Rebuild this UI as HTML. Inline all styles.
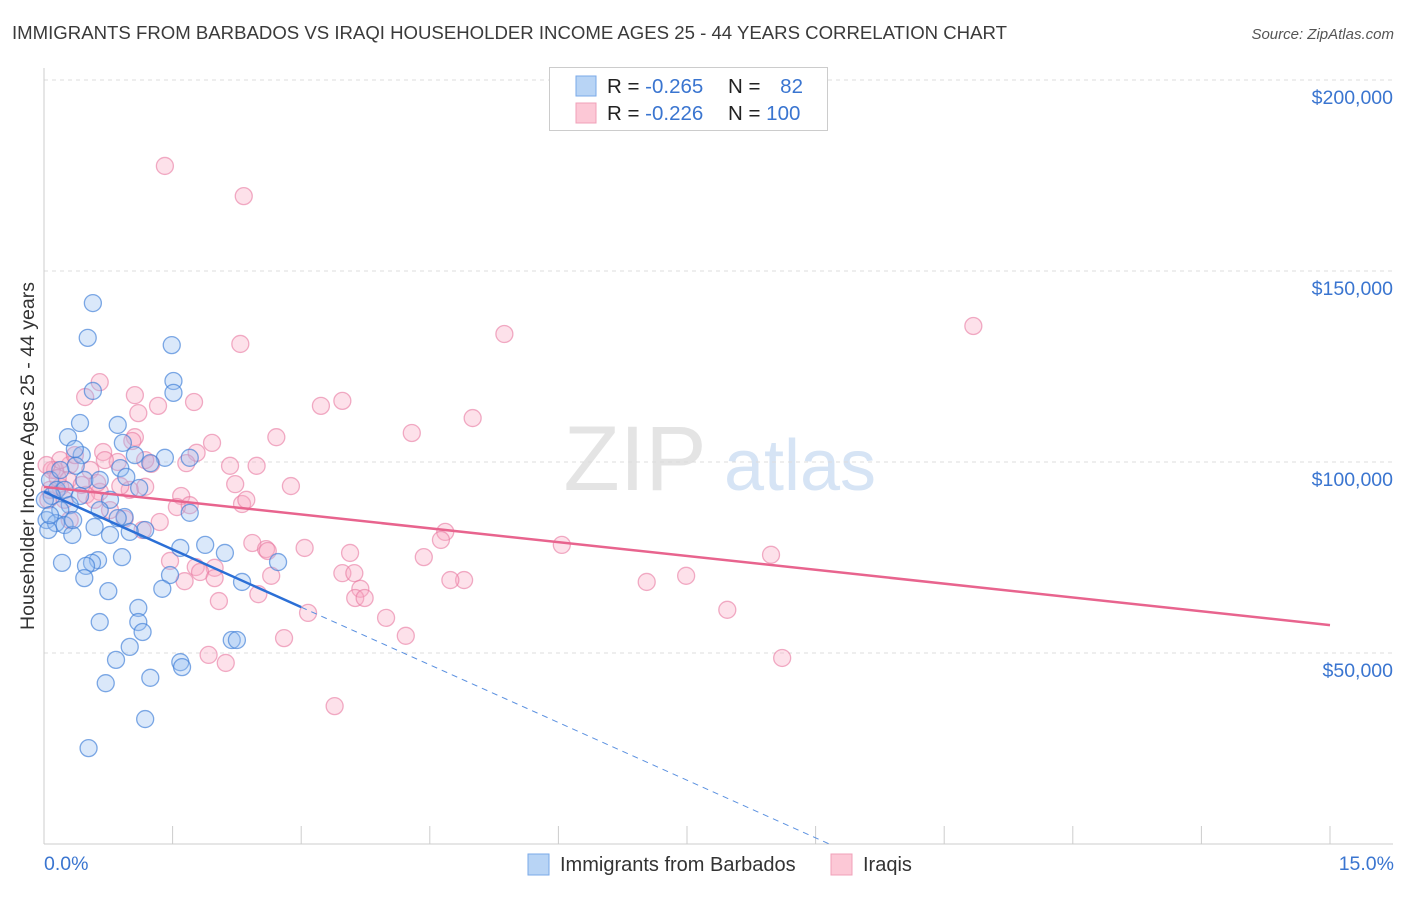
<!DOCTYPE html>
<html><head><meta charset="utf-8"><style>
body{margin:0;background:#fff;font-family:"Liberation Sans",sans-serif}
svg text{font-family:"Liberation Sans",sans-serif}
</style></head><body>
<svg id="chart" width="1406" height="892" xmlns="http://www.w3.org/2000/svg">
<text x="12" y="39" font-size="18.6" fill="#3a3a3a">IMMIGRANTS FROM BARBADOS VS IRAQI HOUSEHOLDER INCOME AGES 25 - 44 YEARS CORRELATION CHART</text>
<text x="1394" y="39" font-size="15" fill="#555" text-anchor="end" font-style="italic">Source: ZipAtlas.com</text>
<g>
<text x="635" y="490" font-size="92" fill="#e4e4e4" text-anchor="middle" font-family="Liberation Serif">ZIP</text>
<text x="800" y="490" font-size="72" fill="#d6e4f5" text-anchor="middle">atlas</text>
</g>
<g id="grid"></g>
<g id="axes"></g>
<g id="points"></g>
<g id="trends"></g>
<text transform="translate(34,456) rotate(-90)" font-size="19.5" fill="#333" text-anchor="middle">Householder Income Ages 25 - 44 years</text>
<g>
<rect x="549.5" y="67.5" width="278" height="63" fill="#fff" stroke="#ccc"/>
<rect x="576" y="76" width="20" height="20" fill="#b8d4f5" stroke="#7aaae8"/>
<rect x="576" y="103" width="20" height="20" fill="#fcc8d6" stroke="#f0a0b8"/>
<text x="607" y="93" font-size="20.5" fill="#222">R = <tspan fill="#3a75d0">-0.265</tspan></text>
<text x="728" y="93" font-size="20.5" fill="#222">N = <tspan fill="#3a75d0" dx="14">82</tspan></text>
<text x="607" y="120" font-size="20.5" fill="#222">R = <tspan fill="#3a75d0">-0.226</tspan></text>
<text x="728" y="120" font-size="20.5" fill="#222">N = <tspan fill="#3a75d0">100</tspan></text>
</g>
<g>
<rect x="528" y="854" width="21" height="21" fill="#b8d4f5" stroke="#7aaae8"/>
<text x="560" y="871" font-size="20" fill="#333">Immigrants from Barbados</text>
<rect x="831" y="854" width="21" height="21" fill="#fcc8d6" stroke="#f0a0b8"/>
<text x="863" y="871" font-size="20" fill="#333">Iraqis</text>
</g>
</svg>
<script>
const blueX=[0.57,0.51,1.49,1.51,0.57,1.51,0.42,0.86,0.28,0.92,0.44,0.36,1.41,1.70,1.06,1.24,0.89,0.96,0.37,0.47,0.65,1.11,0.07,0.15,0.24,0.77,0.42,0.09,0.30,0.19,0.94,1.70,0.86,0.03,0.14,0.24,0.59,1.18,1.00,0.05,0.33,1.88,1.59,2.11,0.91,0.63,0.56,0.21,0.49,1.47,0.47,0.75,1.38,2.31,2.73,1.10,1.10,0.65,1.15,1.00,0.84,1.59,1.61,2.19,2.25,0.72,1.24,1.18,0.52,0.77,0.19,0.01,0.07,0.34,0.65];
const blueY=[141600,132500,130600,121200,118600,118100,110200,109700,106500,105000,101800,103400,101100,101100,101800,99700,98400,96100,99000,95300,95300,93200,95300,92700,92700,90100,91100,91100,88700,87400,85600,86700,85300,84800,84000,83500,83000,82200,81700,82200,80900,78300,77500,76200,75100,74300,73600,73600,72800,70400,69600,66200,66800,68600,73800,61800,58100,58100,55500,51600,48200,47600,46300,53400,53400,42100,43500,32700,25100,80900,97900,90100,86100,84800,87400];
const pinkX=[1.41,2.33,10.84,5.37,2.29,5.00,3.48,3.23,1.75,0.65,1.06,0.48,1.33,1.10,2.71,4.29,1.96,1.78,1.06,0.69,0.30,2.48,2.17,1.66,1.25,0.28,0.54,0.86,0.13,1.18,1.00,0.65,1.60,2.31,2.36,2.88,2.23,1.55,1.35,0.94,1.15,0.49,0.19,0.05,0.09,4.68,4.63,6.04,2.43,2.59,3.04,3.57,1.47,1.77,1.99,2.61,7.49,8.48,4.43,3.48,3.62,3.69,2.65,1.82,1.99,4.90,4.74,7.03,7.97,1.64,2.50,2.04,3.08,3.99,3.63,3.74,4.22,2.80,1.92,2.12,3.39,8.61,0.19,0.36,0.59,0.77,1.18,0.07,0.30,1.70,0.62,0.44,0.89,1.03,0.71,0.03,0.16,0.24];
const pinkY=[177500,169600,135600,133500,130900,111500,116000,114700,115700,120900,117500,117000,114700,112800,106500,107600,105000,102400,106500,102600,99200,99000,99000,99700,99500,95300,97900,100000,97900,93500,92700,92200,91100,89000,90100,93700,94200,88200,84300,85100,82200,91400,93500,90100,97900,81700,79600,78300,78800,77200,77500,76200,74100,72500,72300,76700,70200,75700,75100,70900,70900,66800,70200,71200,69600,69100,69100,68600,61300,68800,65400,63600,60500,59200,64400,64400,54500,53900,49500,47400,36100,48700,100500,101800,90100,87400,100500,92700,84800,88700,94500,94000,93700,105500,100500,99200,95800,90100];
const blueTrendX=[0,3.0,9.16];
const blueTrendY=[92200,62000,0];
const pinkTrendX=[0,15];
const pinkTrendY=[93500,57300];
const yTicks=[50000,100000,150000,200000];
const yTickLabels=["$50,000","$100,000","$150,000","$200,000"];
const xTicks=[0,1.5,3,4.5,6,7.5,9,10.5,12,13.5,15];

const NS="http://www.w3.org/2000/svg";
const X0=44,X1=1330,YB=844,YT=80;
const sx=v=>X0+v/15*(X1-X0);
const sy=v=>YB-v/200000*(YB-YT);
function mk(t,a,p){const e=document.createElementNS(NS,t);for(const k in a)e.setAttribute(k,a[k]);p.appendChild(e);return e;}
const grid=document.getElementById('grid'),axes=document.getElementById('axes'),pts=document.getElementById('points'),tr=document.getElementById('trends');
yTicks.forEach((v,i)=>{
  const l=mk('line',{x1:X0,x2:1393,y1:sy(v),y2:sy(v),stroke:'#ddd','stroke-dasharray':'4,4'},grid);
  
  
  const t=mk('text',{x:1393,y:sy(v)+24,'font-size':19.5,fill:'#3a75d0','text-anchor':'end'},axes);
  t.textContent=yTickLabels[i];
  
  
});
const ya=mk('line',{x1:X0,x2:X0,y1:68,y2:YB,stroke:'#ccc'},axes);


const xa=mk('line',{x1:X0,x2:1393,y1:YB,y2:YB,stroke:'#ccc'},axes);


xTicks.forEach(v=>{
  const l=mk('line',{x1:sx(v),x2:sx(v),y1:YB,y2:YB-18,stroke:'#ccc'},axes);
  
  
});
const xl0=mk('text',{x:44,y:870,'font-size':19.5,fill:'#3a75d0'},axes);xl0.textContent='0.0%';


const xl1=mk('text',{x:1394,y:870,'font-size':19.5,fill:'#3a75d0','text-anchor':'end'},axes);xl1.textContent='15.0%';


pinkX.forEach((x,i)=>{
  const c=mk('circle',{cx:sx(x),cy:sy(pinkY[i]),r:8.5,fill:'rgba(248,170,195,0.35)',stroke:'rgba(232,120,160,0.6)','stroke-width':1.3},pts);
  
  
});
blueX.forEach((x,i)=>{
  const c=mk('circle',{cx:sx(x),cy:sy(blueY[i]),r:8.5,fill:'rgba(150,190,240,0.35)',stroke:'rgba(60,125,215,0.65)','stroke-width':1.3},pts);
  
  
});
const bt=mk('line',{x1:sx(blueTrendX[0]),y1:sy(blueTrendY[0]),x2:sx(blueTrendX[1]),y2:sy(blueTrendY[1]),stroke:'#2b6fd6','stroke-width':2.5},tr);


const bd=mk('line',{x1:sx(blueTrendX[1]),y1:sy(blueTrendY[1]),x2:sx(blueTrendX[2]),y2:sy(blueTrendY[2]),stroke:'#5a90e0','stroke-width':1,'stroke-dasharray':'6,5'},tr);


const pt=mk('line',{x1:sx(pinkTrendX[0]),y1:sy(pinkTrendY[0]),x2:sx(pinkTrendX[1]),y2:sy(pinkTrendY[1]),stroke:'#e8648e','stroke-width':2.5},tr);


</script>
</body></html>
